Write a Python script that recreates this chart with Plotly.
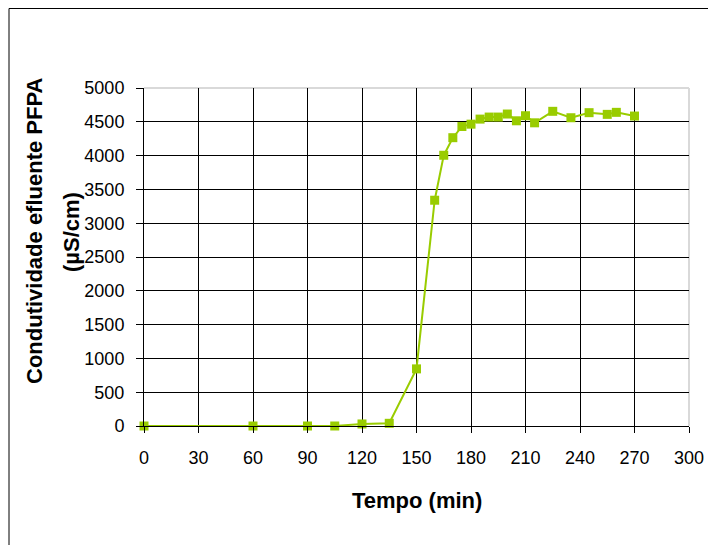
import plotly.graph_objects as go

tempo = [0, 60, 90, 105, 120, 135, 150, 160, 165, 170, 175, 180, 185, 190, 195,
         200, 205, 210, 215, 225, 235, 245, 255, 260, 270]
condutividade = [0, 0, 0, 0, 30, 40, 845, 3340, 4005, 4265, 4430, 4465, 4540, 4570, 4570,
                 4615, 4515, 4590, 4485, 4655, 4560, 4635, 4610, 4640, 4585]

x_ticks = list(range(0, 301, 30))
y_ticks = list(range(0, 5001, 500))

GREEN = "#99CC00"
FONT = "Liberation Sans, Arial, sans-serif"

# page has an 8px body margin; plot area on page: x 144..689, y 88..426
W, H = 708, 537
L, T = 136, 80
PW, PH = 545, 338

def px(xp):
    return (xp - 144) / PW

def py(yp):
    return (426 - yp) / PH

fig = go.Figure()
fig.add_trace(go.Scatter(
    x=tempo, y=condutividade, mode="lines+markers",
    line=dict(color=GREEN, width=2),
    marker=dict(symbol="square", size=9, color=GREEN),
    cliponaxis=False, showlegend=False,
))

fig.update_layout(
    width=W, height=H,
    margin=dict(l=L, r=W - L - PW, t=T, b=H - T - PH),
    paper_bgcolor="white", plot_bgcolor="white",
    font=dict(family=FONT, size=18, color="black"),
    xaxis=dict(
        range=[0, 300], tickvals=x_ticks, ticktext=[str(v) for v in x_ticks],
        showgrid=True, gridcolor="black", gridwidth=1,
        showline=True, linecolor="black", linewidth=1,
        ticks="outside", ticklen=6, tickcolor="black",
        zeroline=False, ticklabelstandoff=9,
    ),
    yaxis=dict(
        range=[0, 5000], tickvals=y_ticks, ticktext=[str(v) for v in y_ticks],
        showgrid=True, gridcolor="black", gridwidth=1,
        showline=True, linecolor="black", linewidth=1,
        ticks="outside", ticklen=7, tickcolor="black",
        zeroline=False, ticklabelstandoff=8,
    ),
    annotations=[
        dict(text="<b>Tempo (min)</b>", xref="paper", yref="paper",
             x=px(417), y=py(500), showarrow=False, font=dict(size=22),
             xanchor="center", yanchor="middle"),
        dict(text="<b>Condutividade efluente PFPA</b>", xref="paper", yref="paper",
             x=px(34), y=py(231), showarrow=False, font=dict(size=22), textangle=-90,
             xanchor="center", yanchor="middle"),
        dict(text="<b>(µS/cm)</b>", xref="paper", yref="paper",
             x=px(72), y=py(232), showarrow=False, font=dict(size=22), textangle=-90,
             xanchor="center", yanchor="middle"),
    ],
    shapes=[
        dict(type="line", xref="paper", yref="paper", x0=0, x1=1, y0=1, y1=1,
             line=dict(color="#d9d9d9", width=2), layer="between"),
        dict(type="line", xref="paper", yref="paper", x0=1, x1=1, y0=0, y1=1,
             line=dict(color="#d9d9d9", width=2), layer="between"),
        dict(type="rect", xref="paper", yref="paper",
             x0=px(9), x1=px(730), y0=py(560), y1=py(8.5),
             line=dict(color="black", width=1), layer="below"),
    ],
)

fig.write_html("out.html")
